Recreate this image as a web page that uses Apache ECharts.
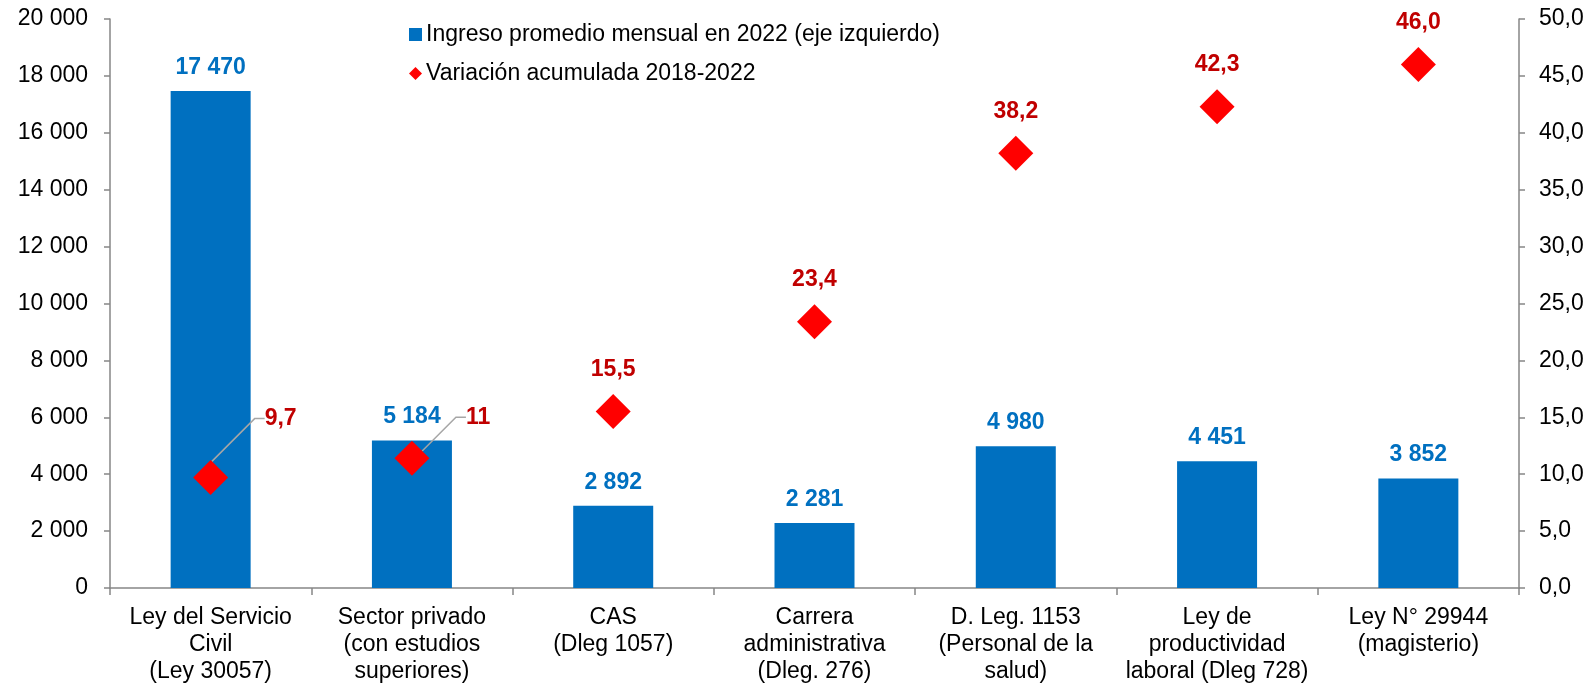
<!DOCTYPE html>
<html>
<head>
<meta charset="utf-8">
<script src="https://cdn.jsdelivr.net/npm/echarts@6/dist/echarts.min.js"></script>
<style>
  html, body { margin: 0; padding: 0; background: #fff; }
  #chart { width: 1590px; height: 686px; }
</style>
</head>
<body>
<div id="chart"></div>
<script>
const categories = [
  'Ley del Servicio\nCivil\n(Ley 30057)',
  'Sector privado\n(con estudios\nsuperiores)',
  'CAS\n(Dleg 1057)',
  'Carrera\nadministrativa\n(Dleg. 276)',
  'D. Leg. 1153\n(Personal de la\nsalud)',
  'Ley de\nproductividad\nlaboral (Dleg 728)',
  'Ley N° 29944\n(magisterio)'
]
const ingreso = [17470, 5184, 2892, 2281, 4980, 4451, 3852]
const variacion = [9.7, 11.4, 15.5, 23.4, 38.2, 42.3, 46.0]
const variacionLabels = ['9,7', '11', '15,5', '23,4', '38,2', '42,3', '46,0']

const font = 'Liberation Sans, Arial, sans-serif'
const axisGray = '#868686'
const fs = 23

const fmtMiles = v => String(v).replace(/\B(?=(\d{3})+(?!\d))/g, ' ')

// los dos primeros rótulos van a la derecha con línea guía
const shifted = { 0: -59, 1: -41 }

const chart = echarts.init(document.getElementById('chart'))
chart.setOption({
  animation: false,
  textStyle: { fontFamily: font },
  grid: { left: 110, right: 71, top: 19, bottom: 98 },
  legend: {
    orient: 'vertical',
    left: 404,
    top: 18,
    itemGap: 16,
    itemWidth: 13,
    itemHeight: 13,
    textStyle: { fontSize: fs, color: '#000', fontFamily: font, padding: [0, 0, 0, -1] },
    data: [
      { name: 'Ingreso promedio mensual en 2022 (eje izquierdo)', icon: 'rect' },
      { name: 'Variación acumulada 2018-2022', icon: 'diamond' }
    ]
  },
  xAxis: {
    type: 'category',
    data: categories,
    axisLine: { lineStyle: { color: axisGray, width: 1.5 } },
    axisTick: { show: true, length: 7, lineStyle: { color: axisGray, width: 1.5 } },
    axisLabel: { color: '#000', fontSize: fs, lineHeight: 27, margin: 16, interval: 0 }
  },
  yAxis: [
    {
      type: 'value',
      min: 0, max: 20000, interval: 2000,
      splitLine: { show: false },
      axisLine: { show: true, lineStyle: { color: axisGray, width: 1.5 } },
      axisTick: { show: true, length: 6, lineStyle: { color: axisGray, width: 1.5 } },
      axisLabel: { color: '#000', fontSize: fs, margin: 22, formatter: v => fmtMiles(v) }
    },
    {
      type: 'value',
      min: 0, max: 50, interval: 5,
      position: 'right',
      splitLine: { show: false },
      axisLine: { show: true, lineStyle: { color: axisGray, width: 1.5 } },
      axisTick: { show: true, length: 6, lineStyle: { color: axisGray, width: 1.5 } },
      axisLabel: { color: '#000', fontSize: fs, margin: 20, formatter: v => v.toFixed(1).replace('.', ',') }
    }
  ],
  series: [
    {
      name: 'Ingreso promedio mensual en 2022 (eje izquierdo)',
      type: 'bar',
      data: ingreso,
      barWidth: 80,
      itemStyle: { color: '#0070C0' },
      label: {
        show: true,
        position: 'top',
        distance: 12,
        color: '#0070C0',
        fontSize: fs,
        fontWeight: 'bold',
        formatter: p => fmtMiles(p.value)
      }
    },
    {
      name: 'Variación acumulada 2018-2022',
      type: 'scatter',
      yAxisIndex: 1,
      data: variacion.map((v, i) => i in shifted ? { value: v, labelLine: { show: true } } : v),
      symbol: 'diamond',
      symbolSize: 35,
      itemStyle: { color: '#FF0000', opacity: 1 },
      label: {
        show: true,
        position: 'top',
        distance: 13,
        color: '#C00000',
        fontSize: fs,
        fontWeight: 'bold',
        formatter: p => variacionLabels[p.dataIndex]
      },
      labelLayout: p => {
        if (p.dataIndex in shifted) {
          const cx = p.rect.x + p.rect.width / 2
          const cy = p.rect.y + p.rect.height / 2
          return { x: cx + 54, y: cy + shifted[p.dataIndex], align: 'left', verticalAlign: 'middle' }
        }
        return {}
      },
      labelLine: { show: false, length2: 10, lineStyle: { color: '#A6A6A6', width: 1.5 } }
    }
  ]
})
</script>
</body>
</html>
